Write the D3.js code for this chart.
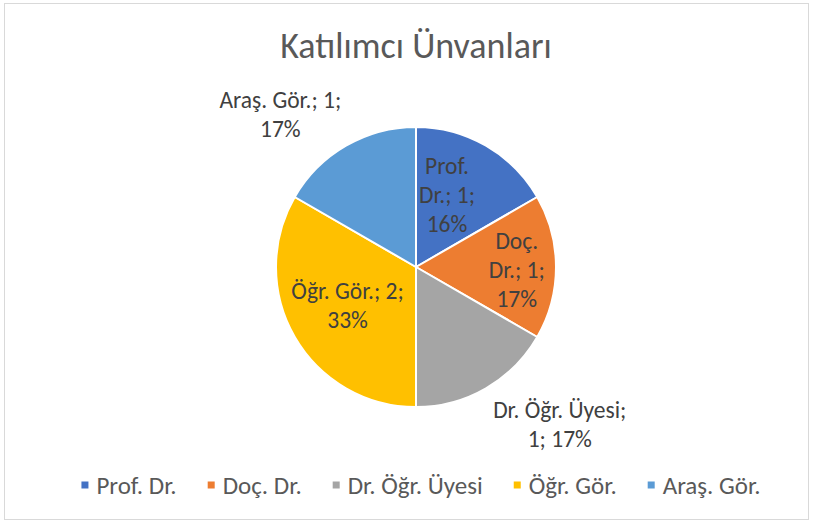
<!DOCTYPE html>
<html>
<head>
<meta charset="utf-8">
<script src="https://cdn.jsdelivr.net/npm/d3@7"></script>
<style>
  body { margin: 0; background: #fff; }
  text { font-family: Carlito, Calibri, Lato, "Open Sans", sans-serif; }
</style>
</head>
<body>
<div id="chart"></div>
<script>
const categories = ['Prof. Dr.', 'Doç. Dr.', 'Dr. Öğr. Üyesi', 'Öğr. Gör.', 'Araş. Gör.'];
const counts = [1, 1, 1, 2, 1];
const percentLabels = ['16%', '17%', '17%', '33%', '17%'];
const colors = ['#4472C4', '#ED7D31', '#A5A5A5', '#FFC000', '#5B9BD5'];

// label text lines, wrapped the way Excel wraps them
const labelLines = categories.map((c, i) => {
  if (i === 0 || i === 1) {
    const parts = c.split(' ');
    return [parts[0], `${parts[1]}; ${counts[i]};`, percentLabels[i]];
  }
  if (i === 2) return [`${c};`, `${counts[i]}; ${percentLabels[i]}`];
  return [`${c}; ${counts[i]};`, percentLabels[i]];
});

// placement of each label: distance from centre (x radius) and angle shift (deg)
const labelPlace = [
  { k: 0.56, da: -6.7 },
  { k: 0.72, da: 1.7 },
  { k: 1.52, da: -12.5 },
  { k: 0.56, da: 0.8 },
  { k: 1.46, da: -11.6 }
];

const width = 814;
const height = 524;
const cx = 416;
const cy = 267;
const radius = 140;

const svg = d3
  .select('#chart')
  .append('svg')
  .attr('width', width)
  .attr('height', height);

svg
  .append('rect')
  .attr('x', 4.5)
  .attr('y', 3.5)
  .attr('width', 804)
  .attr('height', 516)
  .attr('fill', '#fff')
  .attr('stroke', '#d9d9d9');

svg
  .append('text')
  .attr('x', cx)
  .attr('y', 58)
  .attr('text-anchor', 'middle')
  .attr('font-size', 36)
  .attr('fill', '#595959')
  .text('Katılımcı Ünvanları');

const data = categories.map((c, i) => ({ name: c, value: counts[i], i }));

const pie = d3
  .pie()
  .sort(null)
  .value(d => d.value);

const arc = d3
  .arc()
  .innerRadius(0)
  .outerRadius(radius);

const arcs = pie(data);

const g = svg.append('g').attr('transform', `translate(${cx},${cy})`);

g.selectAll('path')
  .data(arcs)
  .enter()
  .append('path')
  .attr('d', arc)
  .attr('fill', d => colors[d.data.i])
  .attr('stroke', '#fff')
  .attr('stroke-width', 2)
  .attr('stroke-linejoin', 'round');

const lineH = 29;
const labels = g
  .selectAll('.lbl')
  .data(arcs)
  .enter()
  .append('text')
  .attr('class', 'lbl')
  .attr('text-anchor', 'middle')
  .attr('font-size', 23.5)
  .attr('fill', '#404040')
  .attr('transform', d => {
    const p = labelPlace[d.data.i];
    const a = (d.startAngle + d.endAngle) / 2 + (p.da * Math.PI) / 180;
    const r = radius * p.k;
    return `translate(${r * Math.sin(a)},${-r * Math.cos(a)})`;
  });

labels.each(function(d) {
  const lines = labelLines[d.data.i];
  const n = lines.length;
  d3.select(this)
    .selectAll('tspan')
    .data(lines)
    .enter()
    .append('tspan')
    .attr('x', 0)
    .attr('y', (l, j) => (j - (n - 1) / 2) * lineH + 8.5)
    .text(l => l);
});

// legend
const legend = svg.append('g').attr('class', 'legend');
const items = legend
  .selectAll('g')
  .data(categories)
  .enter()
  .append('g');

items
  .append('rect')
  .attr('width', 7)
  .attr('height', 7)
  .attr('y', -3.5)
  .attr('fill', (d, i) => colors[i]);

items
  .append('text')
  .attr('x', 15)
  .attr('y', 8.5)
  .attr('font-size', 25)
  .attr('fill', '#595959')
  .text(d => d);

const gap = 31;
const widths = [];
items.each(function() {
  widths.push(this.querySelector('text').getComputedTextLength() + 15);
});
const total = d3.sum(widths) + gap * (widths.length - 1);
let xPos = cx + 5 - total / 2;
items.attr('transform', (d, i) => {
  const t = `translate(${xPos},485)`;
  xPos += widths[i] + gap;
  return t;
});
</script>
</body>
</html>
